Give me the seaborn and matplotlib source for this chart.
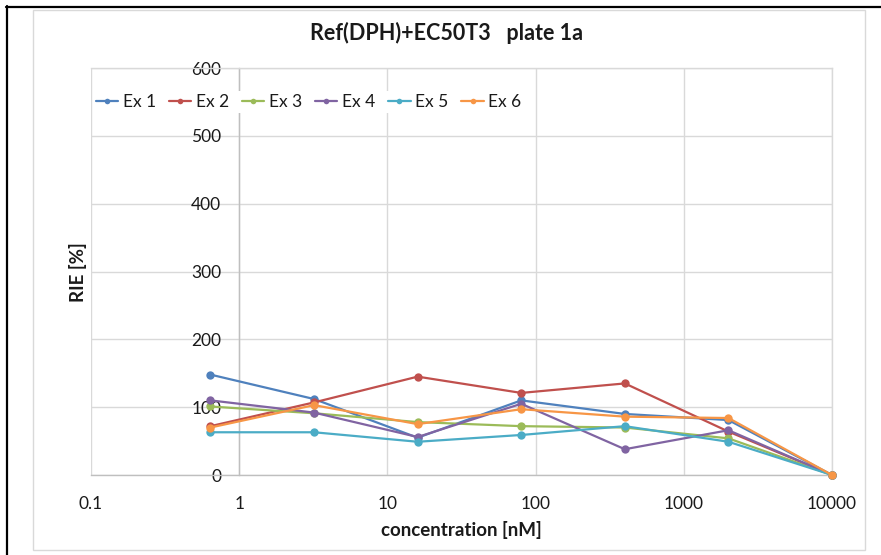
import matplotlib
matplotlib.use("Agg")
import matplotlib.pyplot as plt
from matplotlib.lines import Line2D
from matplotlib.patches import Rectangle
import numpy as np
import pandas as pd
import seaborn as sns

# concentrations (5-fold dilution series, nM)
concentration = [0.64, 3.2, 16, 80, 400, 2000, 10000]

series_names = ["Ex 1", "Ex 2", "Ex 3", "Ex 4", "Ex 5", "Ex 6"]
ex1 = [148, 112, 55, 110, 90, 81, 0]
ex2 = [72, 107, 145, 121, 135, 64, 0]
ex3 = [101, 91, 78, 72, 70, 54, 0]
ex4 = [110, 92, 56, 105, 38, 66, 0]
ex5 = [63, 63, 49, 59, 72, 49, 0]
ex6 = [70, 103, 75, 97, 86, 84, 0]

colors = ["#4F81BD", "#C0504D", "#9BBB59", "#8064A2", "#4BACC6", "#F79646"]

x_ticks = [0.1, 1, 10, 100, 1000, 10000]
x_tick_labels = ["0.1", "1", "10", "100", "1000", "10000"]
y_ticks = [0, 100, 200, 300, 400, 500, 600]

title = "Ref(DPH)+EC50T3   plate 1a"
x_label = "concentration [nM]"
y_label = "RIE [%]"

values = [ex1, ex2, ex3, ex4, ex5, ex6]
df = pd.DataFrame(
    [(c, v, name) for name, vals in zip(series_names, values)
     for c, v in zip(concentration, vals)],
    columns=["conc", "rie", "series"],
)

sns.set_theme(style="white")
plt.rcParams["font.family"] = ["Lato", "DejaVu Sans"]

W, H = 881, 555
fig = plt.figure(figsize=(W / 100, H / 100), dpi=100)
fig.patch.set_facecolor("white")

def fx(px):
    return px / W

def fy(py):
    return 1 - py / H

ax_left, ax_right, ax_top, ax_bottom = 91, 832, 68, 475
ax = fig.add_axes([fx(ax_left), fy(ax_bottom), fx(ax_right - ax_left),
                   (ax_bottom - ax_top) / H])

grid_color = "#D9D9D9"
axis_color = "#BFBFBF"
text_color = "#1a1a1a"

sns.lineplot(data=df, x="conc", y="rie", hue="series", hue_order=series_names,
             palette=colors, marker="o", markersize=6, markeredgewidth=0,
             linewidth=1.6, ax=ax, legend=True, clip_on=False, zorder=3)

ax.set_xscale("log")
ax.set_xlim(0.1, 10000)
ax.set_ylim(0, 600)
ax.set_xticks(x_ticks)
ax.set_xticklabels(x_tick_labels)
ax.xaxis.set_minor_locator(matplotlib.ticker.NullLocator())
ax.set_yticks(y_ticks)
ax.set_yticklabels([str(v) for v in y_ticks])
ax.set_xlabel("")
ax.set_ylabel("")

ax.grid(True, color=grid_color, linewidth=1.0, zorder=0)
ax.set_axisbelow(True)

# vertical axis crosses at 1, as in a spreadsheet log chart
ax.spines["left"].set_position(("data", 1))
ax.spines["left"].set_color(axis_color)
ax.spines["left"].set_linewidth(1.0)
ax.spines["bottom"].set_color(axis_color)
ax.spines["bottom"].set_linewidth(1.0)
for s in ("top", "right"):
    ax.spines[s].set_color(grid_color)
    ax.spines[s].set_linewidth(1.0)

ax.tick_params(axis="both", length=0, labelsize=12.5, colors=text_color)
ax.tick_params(axis="y", pad=13)
ax.tick_params(axis="x", pad=15)

leg_handles = [Line2D([0], [0], color=c, lw=1.6, marker="o", markersize=4,
                      markeredgewidth=0) for c in colors]
leg = ax.legend(leg_handles, series_names, loc="center left",
                bbox_to_anchor=(fx(93), fy(102)),
                bbox_transform=fig.transFigure, ncol=6, frameon=True,
                fontsize=12.5, handlelength=1.3, handletextpad=0.25,
                columnspacing=0.75, borderpad=0.15, borderaxespad=0,
                fancybox=False)
leg.get_frame().set_facecolor("white")
leg.get_frame().set_edgecolor("none")
leg.get_frame().set_alpha(1)
for t in leg.get_texts():
    t.set_color(text_color)

fig.text(fx(447), fy(33), title, ha="center", va="center",
         fontsize=15.5, fontweight="bold", color=text_color)
fig.text(fx(461), fy(530), x_label, ha="center", va="center",
         fontsize=13.5, fontweight="bold", color=text_color)
fig.text(fx(78), fy(272), y_label, ha="center", va="center", rotation=90,
         fontsize=13.5, fontweight="bold", color=text_color)

# chart area border and the outer black frame edges
fig.add_artist(Rectangle((fx(33), fy(550)), fx(865 - 33), (550 - 9.5) / H,
                         transform=fig.transFigure, fill=False,
                         edgecolor=grid_color, linewidth=1.0))
fig.add_artist(Line2D([fx(6), 1], [fy(7), fy(7)], transform=fig.transFigure,
                      color="black", linewidth=1.6))
fig.add_artist(Line2D([fx(7), fx(7)], [fy(6), 0], transform=fig.transFigure,
                      color="black", linewidth=1.6))

fig.savefig("out.png", dpi=100)
